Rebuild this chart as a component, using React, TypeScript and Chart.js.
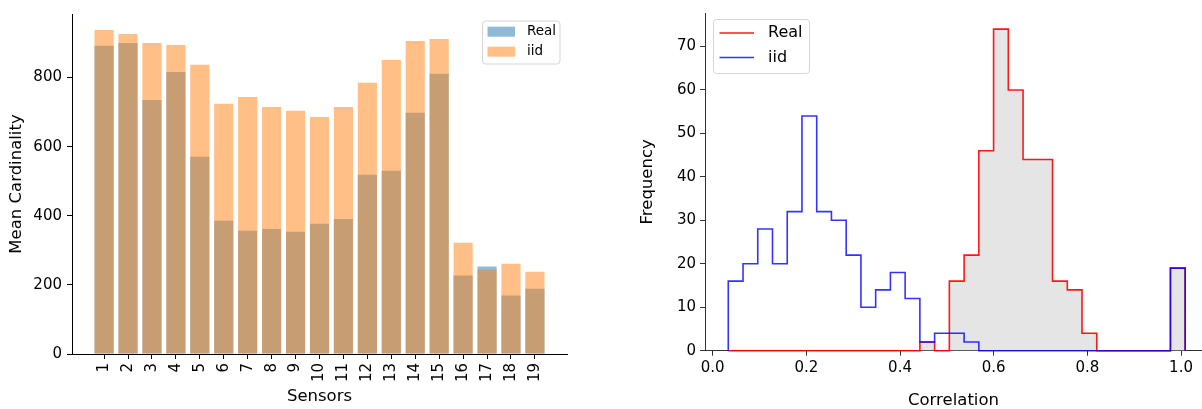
import React, { useEffect, useRef } from "react";
import { Chart, registerables } from "chart.js";

Chart.register(...registerables);

// ---------- Left chart data ----------
const sensors = ["1", "2", "3", "4", "5", "6", "7", "8", "9", "10", "11", "12", "13", "14", "15", "16", "17", "18", "19"];
const realCardinality = [892, 900, 735, 816, 571, 386, 357, 362, 354, 377, 391, 519, 530, 698, 811, 227, 253, 169, 189];
const iidCardinality = [938, 926, 900, 894, 837, 724, 744, 715, 704, 686, 715, 785, 851, 906, 912, 322, 244, 261, 238];
const cardinalityTicks = [0, 200, 400, 600, 800];

// ---------- Right chart data ----------
const binStart = 0.0333;
const binWidth = 0.03147;
const realCounts = [0, 0, 0, 0, 0, 0, 0, 0, 0, 0, 0, 0, 0, 2, 0, 16, 22, 46, 74, 60, 44, 44, 16, 14, 4, 0, 0, 0, 0, 0, 19];
const iidCounts = [16, 20, 28, 20, 32, 54, 32, 30, 22, 10, 14, 18, 12, 2, 4, 4, 2, 0, 0, 0, 0, 0, 0, 0, 0, 0, 0, 0, 0, 0, 19];
const correlationTicks = [0, 0.2, 0.4, 0.6, 0.8, 1.0];
const frequencyTicks = [0, 10, 20, 30, 40, 50, 60, 70];

const FONT = "'DejaVu Sans', sans-serif";

function stepPoints(counts: number[]) {
  const pts: { x: number; y: number }[] = [{ x: binStart, y: 0 }];
  counts.forEach((c, i) => {
    const l = binStart + i * binWidth;
    pts.push({ x: l, y: c }, { x: l + binWidth, y: c });
  });
  pts.push({ x: binStart + counts.length * binWidth, y: 0 });
  return pts;
}

const boxLegend = {
  id: "boxLegend",
  afterDraw(chart: any, _args: any, opts: any) {
    const { ctx } = chart;
    const { x, y, w, h, rows, symX, symW, symH, textX, fontSize, kind } = opts;
    ctx.save();
    const r = 3;
    ctx.beginPath();
    ctx.moveTo(x + r, y);
    ctx.lineTo(x + w - r, y);
    ctx.arcTo(x + w, y, x + w, y + r, r);
    ctx.lineTo(x + w, y + h - r);
    ctx.arcTo(x + w, y + h, x + w - r, y + h, r);
    ctx.lineTo(x + r, y + h);
    ctx.arcTo(x, y + h, x, y + h - r, r);
    ctx.lineTo(x, y + r);
    ctx.arcTo(x, y, x + r, y, r);
    ctx.closePath();
    ctx.fillStyle = "rgba(255,255,255,0.8)";
    ctx.fill();
    ctx.strokeStyle = "#d5d5d5";
    ctx.lineWidth = 1;
    ctx.stroke();
    chart.data.datasets.forEach((ds: any, i: number) => {
      const ry = rows[i];
      if (kind === "patch") {
        ctx.fillStyle = ds.backgroundColor;
        ctx.fillRect(symX, ry - symH / 2, symW, symH);
      } else {
        ctx.strokeStyle = ds.borderColor;
        ctx.lineWidth = 1.5;
        ctx.beginPath();
        ctx.moveTo(symX, ry);
        ctx.lineTo(symX + symW, ry);
        ctx.stroke();
      }
      ctx.fillStyle = "#000";
      ctx.font = `${fontSize}px ${FONT}`;
      ctx.textAlign = "left";
      ctx.textBaseline = "middle";
      ctx.fillText(ds.label, textX, ry);
    });
    ctx.restore();
  },
};

export default function App() {
  const leftRef = useRef<HTMLCanvasElement>(null);
  const rightRef = useRef<HTMLCanvasElement>(null);

  useEffect(() => {
    const left = new Chart(leftRef.current as HTMLCanvasElement, {
      type: "bar",
      data: {
        datasets: [
          {
            label: "Real",
            data: sensors.map((_, i) => ({ x: i + 1, y: realCardinality[i] })),
            backgroundColor: "rgba(31,119,180,0.5)",
            borderWidth: 0,
            grouped: false,
            order: 1,
            barPercentage: 0.8,
            categoryPercentage: 1,
          } as any,
          {
            label: "iid",
            data: sensors.map((_, i) => ({ x: i + 1, y: iidCardinality[i] })),
            backgroundColor: "rgba(255,127,14,0.5)",
            borderWidth: 0,
            grouped: false,
            order: 0,
            barPercentage: 0.8,
            categoryPercentage: 1,
          } as any,
        ],
      },
      options: {
        animation: false,
        responsive: false,
        events: [],
        layout: { padding: { top: 14, right: 33, left: 0, bottom: 0 } },
        plugins: {
          legend: { display: false },
          tooltip: { enabled: false },
          boxLegend: {
            x: 482.5, y: 21, w: 77.5, h: 43,
            rows: [31.7, 51.7], symX: 487.5, symW: 27.5, symH: 10,
            textX: 527, fontSize: 13.5, kind: "patch",
          },
        } as any,
        scales: {
          x: {
            type: "linear",
            min: -0.34,
            max: 20.34,
            offset: false,
            afterBuildTicks: (axis: any) => {
              axis.ticks = sensors.map((_, i) => ({ value: i + 1 }));
            },
            afterFit: (s: any) => { s.height = 55; },
            grid: { offset: false, drawOnChartArea: false, drawTicks: true, tickLength: 5, color: "#000", tickWidth: 1 },
            border: { display: true, color: "#000", width: 1 },
            ticks: {
              autoSkip: false,
              minRotation: 90,
              maxRotation: 90,
              padding: 4,
              color: "#000",
              font: { family: FONT, size: 15 },
              callback: (v: any) => sensors[Number(v) - 1] ?? "",
            },
            title: {
              display: true,
              text: "Sensors",
              color: "#000",
              font: { family: FONT, size: 16.5 },
              padding: { top: 0, bottom: 2 },
            },
          },
          y: {
            min: 0,
            max: 984,
            afterBuildTicks: (axis: any) => {
              axis.ticks = cardinalityTicks.map((v) => ({ value: v }));
            },
            afterFit: (s: any) => { s.width = 72; },
            grid: { drawOnChartArea: false, drawTicks: true, tickLength: 5, color: "#000", tickWidth: 1 },
            border: { display: true, color: "#000", width: 1 },
            ticks: { padding: 5, color: "#000", font: { family: FONT, size: 15 } },
            title: {
              display: true,
              text: "Mean Cardinality",
              color: "#000",
              font: { family: FONT, size: 16.5 },
              padding: { top: 7, bottom: 0 },
            },
          },
        },
      },
      plugins: [boxLegend as any],
    } as any);

    const right = new Chart(rightRef.current as HTMLCanvasElement, {
      type: "line",
      data: {
        datasets: [
          {
            label: "Real",
            data: stepPoints(realCounts),
            borderColor: "rgba(255,0,0,0.9)",
            backgroundColor: "rgba(211,211,211,0.6)",
            fill: "origin",
            borderWidth: 1.6,
            pointRadius: 0,
            tension: 0,
            order: 1,
            clip: false,
          } as any,
          {
            label: "iid",
            data: stepPoints(iidCounts),
            borderColor: "rgba(0,0,255,0.8)",
            backgroundColor: "rgba(0,0,255,0)",
            fill: false,
            borderWidth: 1.6,
            pointRadius: 0,
            tension: 0,
            order: 0,
            clip: false,
          } as any,
        ],
      },
      options: {
        animation: false,
        responsive: false,
        events: [],
        layout: { padding: { top: 11, right: 0, left: 0, bottom: 0 } },
        plugins: {
          legend: { display: false },
          tooltip: { enabled: false },
          boxLegend: {
            x: 113.5, y: 19.5, w: 96, h: 54,
            rows: [33, 57.5], symX: 119.5, symW: 34.5, symH: 0,
            textX: 168, fontSize: 16, kind: "line",
          },
        } as any,
        scales: {
          x: {
            type: "linear",
            min: -0.0164,
            max: 1.0448,
            afterBuildTicks: (axis: any) => {
              axis.ticks = correlationTicks.map((v) => ({ value: v }));
            },
            afterFit: (s: any) => { s.height = 58.3; },
            grid: { offset: false, drawOnChartArea: false, drawTicks: true, tickLength: 5, color: "#333", tickWidth: 1 },
            border: { display: true, color: "#333", width: 1 },
            ticks: {
              padding: 3,
              color: "#000",
              font: { family: FONT, size: 15 },
              callback: (v: any) => Number(v).toFixed(1),
            },
            title: {
              display: true,
              text: "Correlation",
              color: "#000",
              font: { family: FONT, size: 16.5, lineHeight: 1 },
              padding: { top: 0, bottom: 0 },
            },
          },
          y: {
            min: 0,
            max: 77.7,
            afterBuildTicks: (axis: any) => {
              axis.ticks = frequencyTicks.map((v) => ({ value: v }));
            },
            afterFit: (s: any) => { s.width = 105; },
            grid: { drawOnChartArea: false, drawTicks: true, tickLength: 5, color: "#333", tickWidth: 1 },
            border: { display: true, color: "#333", width: 1 },
            ticks: { padding: 4, color: "#000", font: { family: FONT, size: 15 } },
            title: {
              display: true,
              text: "Frequency",
              color: "#000",
              font: { family: FONT, size: 16.5 },
              padding: { top: 38, bottom: 0 },
            },
          },
        },
      },
      plugins: [boxLegend as any],
    } as any);

    return () => {
      left.destroy();
      right.destroy();
    };
  }, []);

  return (
    <div style={{ position: "absolute", left: 0, top: 0, width: 1202, height: 409, background: "#fff", overflow: "hidden" }}>
      <canvas ref={leftRef} width={600} height={409} style={{ position: "absolute", left: 0, top: 0, width: 600, height: 409 }} />
      <canvas ref={rightRef} width={602} height={409} style={{ position: "absolute", left: 600, top: 0, width: 602, height: 409 }} />
    </div>
  );
}
